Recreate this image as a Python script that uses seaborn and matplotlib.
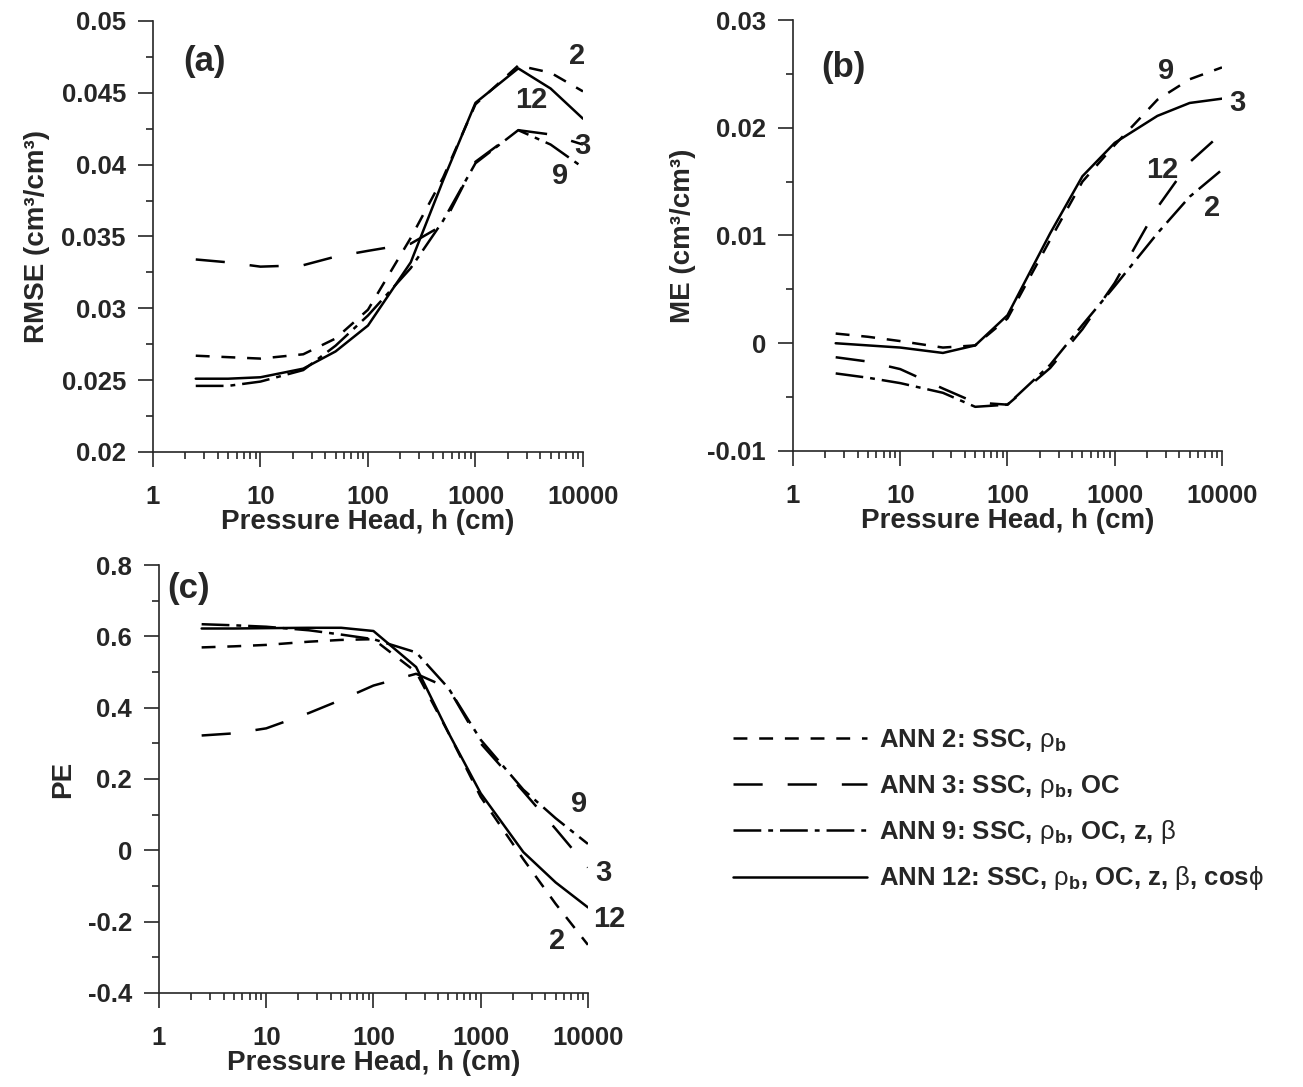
import seaborn as sns
import pandas as pd
import matplotlib.pyplot as plt
from matplotlib.lines import Line2D
from matplotlib.ticker import MultipleLocator, LogLocator, FuncFormatter, NullFormatter

# pressure heads (cm)
h = [2.5, 5, 10, 25, 50, 100, 250, 500, 1000, 2500, 5000, 10000]
models = ["ANN 2", "ANN 3", "ANN 9", "ANN 12"]

# (a) RMSE
rmse_ann2 = [0.0267, 0.0266, 0.0265, 0.0268, 0.0279, 0.0299, 0.0349, 0.0391, 0.0442, 0.0469, 0.0464, 0.0451]
rmse_ann3 = [0.0334, 0.0332, 0.0329, 0.0330, 0.0336, 0.0340, 0.0345, 0.0358, 0.0402, 0.0424, 0.0421, 0.0414]
rmse_ann9 = [0.0246, 0.0246, 0.0249, 0.0257, 0.0274, 0.0295, 0.0328, 0.0361, 0.0401, 0.0424, 0.0414, 0.0398]
rmse_ann12 = [0.0251, 0.0251, 0.0252, 0.0258, 0.0270, 0.0288, 0.0332, 0.0389, 0.0443, 0.0467, 0.0453, 0.0432]

# (b) ME
me_ann2 = [0.0009, 0.0006, 0.0002, -0.0004, -0.0002, 0.0023, 0.0096, 0.0150, 0.0184, 0.0226, 0.0245, 0.0256]
me_ann3 = [-0.0013, -0.0017, -0.0024, -0.0042, -0.0055, -0.0057, -0.0023, 0.0013, 0.0056, 0.0126, 0.0168, 0.0195]
me_ann9 = [-0.0028, -0.0032, -0.0037, -0.0046, -0.0059, -0.0057, -0.0020, 0.0017, 0.0053, 0.0102, 0.0136, 0.0161]
me_ann12 = [0.0000, -0.0002, -0.0004, -0.0009, -0.0002, 0.0026, 0.0102, 0.0155, 0.0186, 0.0211, 0.0223, 0.0227]

# (c) PE
pe_ann2 = [0.569, 0.572, 0.576, 0.585, 0.590, 0.592, 0.500, 0.330, 0.150, -0.025, -0.150, -0.265]
pe_ann3 = [0.322, 0.328, 0.342, 0.385, 0.422, 0.462, 0.495, 0.455, 0.300, 0.165, 0.060, -0.048]
pe_ann9 = [0.634, 0.631, 0.627, 0.617, 0.605, 0.592, 0.555, 0.455, 0.310, 0.170, 0.090, 0.018]
pe_ann12 = [0.622, 0.622, 0.623, 0.624, 0.624, 0.615, 0.514, 0.330, 0.160, -0.005, -0.090, -0.160]

legend_labels = [
    r"ANN 2: SSC, $\rho_\mathbf{b}$",
    r"ANN 3: SSC, $\rho_\mathbf{b}$, OC",
    r"ANN 9: SSC, $\rho_\mathbf{b}$, OC, z, $\beta$",
    r"ANN 12: SSC, $\rho_\mathbf{b}$, OC, z, $\beta$, cos$\phi$",
]


def long_df(series):
    rows = []
    for name, vals in zip(models, series):
        for x, v in zip(h, vals):
            rows.append({"h": x, "value": v, "model": name})
    return pd.DataFrame(rows)


sns.set_style("ticks")
plt.rcParams['font.family'] = ['Liberation Sans', 'DejaVu Sans']
plt.rcParams['font.weight'] = 'bold'
plt.rcParams['axes.labelweight'] = 'bold'
plt.rcParams['lines.scale_dashes'] = False
plt.rcParams['mathtext.fontset'] = 'custom'
plt.rcParams['mathtext.rm'] = 'Liberation Sans:weight=normal'
plt.rcParams['mathtext.bf'] = 'Liberation Sans:weight=bold'
plt.rcParams['mathtext.it'] = 'Liberation Sans:italic'
plt.rcParams['mathtext.default'] = 'rm'

line_dashes = {"ANN 2": (10, 8.5), "ANN 3": (21, 18), "ANN 9": (20, 5, 3.5, 5), "ANN 12": ""}
lw = 1.8

fig = plt.figure(figsize=(13.03, 10.87), dpi=100)
ax_a = fig.add_axes([0.1174, 0.5842, 0.3300, 0.3965])
ax_b = fig.add_axes([0.6086, 0.5851, 0.3292, 0.3965])
ax_c = fig.add_axes([0.1220, 0.0865, 0.3292, 0.3937])

panels = [
    (ax_a, [rmse_ann2, rmse_ann3, rmse_ann9, rmse_ann12], "RMSE (cm³/cm³)", (0.02, 0.05), 0.005, 0.0025, "(a)", (0.119, 0.905)),
    (ax_b, [me_ann2, me_ann3, me_ann9, me_ann12], "ME (cm³/cm³)", (-0.01, 0.03), 0.01, 0.005, "(b)", (0.117, 0.889)),
    (ax_c, [pe_ann2, pe_ann3, pe_ann9, pe_ann12], "PE", (-0.4, 0.8), 0.2, 0.1, "(c)", (0.068, 0.944)),
]

for ax, series, ylab, ylim, major, minor, tag, tagpos in panels:
    df = long_df(series)
    sns.lineplot(data=df, x="h", y="value", style="model", dashes=line_dashes,
                 color="black", linewidth=lw, legend=False, ax=ax, sort=False)
    ax.set_xscale("log")
    ax.set_xlim(1, 10000)
    ax.set_ylim(*ylim)
    ax.xaxis.set_major_locator(LogLocator(base=10, numticks=10))
    ax.xaxis.set_minor_locator(LogLocator(base=10, subs=range(2, 10), numticks=20))
    ax.xaxis.set_major_formatter(FuncFormatter(lambda v, p: f"{v:g}"))
    ax.xaxis.set_minor_formatter(NullFormatter())
    ax.yaxis.set_major_locator(MultipleLocator(major))
    ax.yaxis.set_minor_locator(MultipleLocator(minor))
    ax.yaxis.set_major_formatter(FuncFormatter(lambda v, p: f"{round(v, 6):g}"))
    sns.despine(ax=ax)
    for s in ("left", "bottom"):
        ax.spines[s].set_linewidth(1.2)
    ax.tick_params(which="major", length=10.5, width=1.2, labelsize=18.5, pad=9)
    ax.tick_params(which="minor", length=5, width=1.2)
    ax.tick_params(axis="x", which="major", pad=13)
    ax.set_xlabel("Pressure Head, h (cm)", fontsize=20, labelpad=0)
    ax.set_ylabel(ylab, fontsize=20, labelpad=8)
    ax.text(tagpos[0], tagpos[1], tag, transform=ax.transAxes, fontsize=25,
            fontweight="bold", ha="center", va="center")

# curve tags at the line ends
end_tags = [
    (ax_a, [("2", 0.987, 0.918), ("12", 0.879, 0.817), ("3", 0.998, 0.710), ("9", 0.947, 0.640)]),
    (ax_b, [("9", 0.869, 0.882), ("3", 1.037, 0.807), ("12", 0.860, 0.652), ("2", 0.978, 0.564)]),
    (ax_c, [("9", 0.979, 0.442), ("3", 1.035, 0.280), ("12", 1.049, 0.173), ("2", 0.928, 0.121)]),
]
for ax, tags in end_tags:
    for t, x, y in tags:
        ax.text(x, y, t, transform=ax.transAxes, fontsize=21, fontweight="bold",
                ha="center", va="center", clip_on=False)

handles = []
for name in models:
    d = line_dashes[name]
    if d == "":
        handles.append(Line2D([0], [0], color="black", lw=lw, linestyle="-"))
    else:
        handles.append(Line2D([0], [0], color="black", lw=lw, dashes=d))

fig.legend(handles, legend_labels, loc="upper left",
           bbox_to_anchor=(733 / 1303, 1 - 727 / 1087), frameon=False,
           fontsize=18.5, handlelength=5.2, handletextpad=0.5,
           labelspacing=0.72, borderpad=0, borderaxespad=0)

fig.savefig("out.png", dpi=100)
